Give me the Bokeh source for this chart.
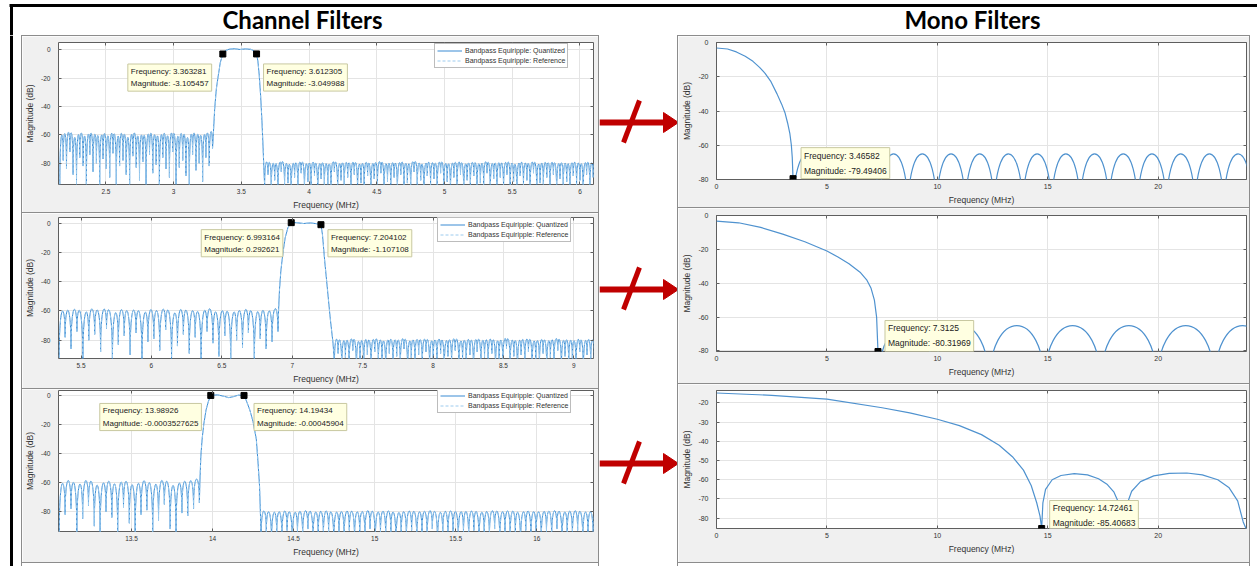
import numpy as np
from bokeh.plotting import figure
from bokeh.models import (Range1d, FixedTicker, NumeralTickFormatter, CustomJSTickFormatter,
                          LinearAxis, Label, Legend, LegendItem, Spacer)
from bokeh.layouts import row, column
from bokeh.embed import file_html
from bokeh.resources import INLINE
from bokeh.core.properties import value

# ======================= DATA =======================
title_left = "Channel Filters"
title_right = "Mono Filters"
legend_labels = ["Bandpass Equiripple: Quantized", "Bandpass Equiripple: Reference"]
x_label = "Frequency (MHz)"
y_label = "Magnitude (dB)"

# ---- Channel filter 1 ----
ch1_xlim = [2.15, 6.1]
ch1_ylim = [-95, 5]
ch1_xticks = [2.5, 3, 3.5, 4, 4.5, 5, 5.5, 6]
ch1_yticks = [-80, -60, -40, -20, 0]
ch1_lo_level = -60
ch1_lo_null_f = [2.160, 2.185, 2.209, 2.234, 2.258, 2.283, 2.307, 2.332, 2.356, 2.381, 2.405, 2.430,
                 2.454, 2.479, 2.503, 2.528, 2.552, 2.577, 2.601, 2.626, 2.650, 2.675, 2.699, 2.724,
                 2.748, 2.773, 2.797, 2.822, 2.846, 2.871, 2.895, 2.920, 2.944, 2.969, 2.993, 3.018,
                 3.042, 3.067, 3.091, 3.116, 3.140, 3.165, 3.189, 3.214, 3.238, 3.263, 3.287]
ch1_lo_null_db = [-95, -78, -84, -72, -88, -95, -76, -82, -95, -74, -86, -80, -95, -77, -84, -90,
                  -73, -95, -82, -78, -88, -95, -75, -83, -92, -79, -95, -74, -87, -81, -95, -76,
                  -84, -90, -72, -95, -83, -78, -89, -95, -74, -85, -80, -93, -76, -82, -70]
ch1_pass_f = [3.287, 3.293, 3.303, 3.315, 3.330, 3.345, 3.363281, 3.380, 3.410, 3.450, 3.490,
              3.530, 3.570, 3.595, 3.612305, 3.622, 3.632, 3.642, 3.652, 3.660, 3.667, 3.672]
ch1_pass_db = [-70, -60, -42, -28, -18, -9, -3.105457, -0.8, 0.3, 0.6, 0.1,
               0.5, 0.2, -1.0, -3.049988, -8, -18, -32, -50, -68, -85, -96]
ch1_hi_level = -80
ch1_hi_null_f = [3.672, 3.697, 3.721, 3.746, 3.770, 3.795, 3.819, 3.844, 3.868, 3.893, 3.917, 3.942,
                 3.966, 3.991, 4.015, 4.040, 4.064, 4.089, 4.113, 4.138, 4.162, 4.187, 4.211, 4.236,
                 4.260, 4.285, 4.309, 4.334, 4.358, 4.383, 4.407, 4.432, 4.456, 4.481, 4.505, 4.530,
                 4.554, 4.579, 4.603, 4.628, 4.652, 4.677, 4.701, 4.726, 4.750, 4.775, 4.799, 4.824,
                 4.848, 4.873, 4.897, 4.922, 4.946, 4.971, 4.995, 5.020, 5.044, 5.069, 5.093, 5.118,
                 5.142, 5.167, 5.191, 5.216, 5.240, 5.265, 5.289, 5.314, 5.338, 5.363, 5.387, 5.412,
                 5.436, 5.461, 5.485, 5.510, 5.534, 5.559, 5.583, 5.608, 5.632, 5.657, 5.681, 5.706,
                 5.730, 5.755, 5.779, 5.804, 5.828, 5.853, 5.877, 5.902, 5.926, 5.951, 5.975, 6.000,
                 6.024, 6.049, 6.073, 6.098, 6.122]
ch1_hi_null_db = [-96, -88, -99, -92, -101, -86, -97, -94, -103, -90,
                  -98, -87, -100, -93, -96, -89, -104, -91, -97, -95,
                  -99, -86, -102, -92, -96, -90, -98, -88, -101, -94,
                  -97, -89, -103, -91, -95, -87, -100, -93, -98, -90,
                  -102, -88, -96, -94, -99, -86, -97, -92, -104, -89,
                  -96, -91, -100, -87, -98, -93, -101, -90, -95, -88,
                  -103, -92, -97, -89, -99, -94, -96, -87, -102, -91,
                  -98, -90, -100, -88, -97, -93, -104, -89, -96, -92,
                  -99, -87, -101, -94, -95, -90, -98, -88, -103, -91,
                  -97, -93, -100, -89, -96, -92, -102, -88, -99, -90, -95]
ch1_tip_f = [3.363281, 3.612305]
ch1_tip_db = [-3.105457, -3.049988]
ch1_tip_text = ["Frequency: 3.363281\nMagnitude: -3.105457",
                "Frequency: 3.612305\nMagnitude: -3.049988"]

# ---- Channel filter 2 ----
ch2_xlim = [5.34, 9.14]
ch2_ylim = [-92.5, 3.8]
ch2_xticks = [5.5, 6, 6.5, 7, 7.5, 8, 8.5, 9]
ch2_yticks = [-80, -60, -40, -20, 0]
ch2_lo_level = -60
ch2_lo_null_f = [5.345, 5.387, 5.429, 5.471, 5.513, 5.555, 5.597, 5.639, 5.681, 5.723, 5.765, 5.807,
                 5.849, 5.891, 5.933, 5.975, 6.017, 6.059, 6.101, 6.143, 6.185, 6.227, 6.269, 6.311,
                 6.353, 6.395, 6.437, 6.479, 6.521, 6.563, 6.605, 6.647, 6.689, 6.731, 6.773, 6.815,
                 6.857, 6.899]
ch2_lo_null_db = [-92, -78, -86, -74, -95, -80, -76, -88, -72, -95, -83, -77, -90, -75, -95, -81,
                  -79, -87, -73, -95, -84, -76, -89, -78, -95, -74, -82, -91, -77, -95, -80, -85,
                  -75, -95, -79, -86, -81, -74]
ch2_pass_f = [6.899, 6.903, 6.910, 6.920, 6.935, 6.950, 6.970, 6.993164, 7.030, 7.080, 7.130,
              7.170, 7.204102, 7.215, 7.230, 7.250, 7.270, 7.290, 7.300]
ch2_pass_db = [-74, -60, -45, -32, -20, -10, -3, 0.292621, 0.3, -0.3, 0.1,
               -0.4, -1.107108, -8, -25, -45, -65, -82, -96]
ch2_hi_level = -80
ch2_hi_null_f = [7.300, 7.326, 7.352, 7.378, 7.404, 7.430, 7.456, 7.482, 7.508, 7.534, 7.560, 7.586,
                 7.612, 7.638, 7.664, 7.690, 7.716, 7.742, 7.768, 7.794, 7.820, 7.846, 7.872, 7.898,
                 7.924, 7.950, 7.976, 8.002, 8.028, 8.054, 8.080, 8.106, 8.132, 8.158, 8.184, 8.210,
                 8.236, 8.262, 8.288, 8.314, 8.340, 8.366, 8.392, 8.418, 8.444, 8.470, 8.496, 8.522,
                 8.548, 8.574, 8.600, 8.626, 8.652, 8.678, 8.704, 8.730, 8.756, 8.782, 8.808, 8.834,
                 8.860, 8.886, 8.912, 8.938, 8.964, 8.990, 9.016, 9.042, 9.068, 9.094, 9.120, 9.146,
                 9.172]
ch2_hi_null_db = [-96, -89, -101, -92, -98, -87, -103, -94, -97, -90,
                  -100, -88, -95, -93, -102, -89, -97, -91, -99, -86,
                  -104, -92, -96, -90, -98, -88, -101, -93, -95, -89,
                  -103, -91, -97, -87, -100, -94, -96, -90, -102, -88,
                  -98, -92, -95, -89, -101, -93, -97, -86, -99, -91,
                  -103, -90, -96, -88, -100, -94, -98, -89, -102, -92,
                  -95, -87, -101, -91, -97, -93, -99, -88, -104, -90,
                  -96, -92, -98]
ch2_tip_f = [6.993164, 7.204102]
ch2_tip_db = [0.292621, -1.107108]
ch2_tip_text = ["Frequency: 6.993164\nMagnitude: 0.292621",
                "Frequency: 7.204102\nMagnitude: -1.107108"]

# ---- Channel filter 3 ----
ch3_xlim = [13.05, 16.35]
ch3_ylim = [-93.7, 3.4]
ch3_xticks = [13.5, 14, 14.5, 15, 15.5, 16]
ch3_yticks = [-80, -60, -40, -20, 0]
ch3_lo_level = -60
ch3_lo_null_f = [13.055, 13.091, 13.127, 13.163, 13.199, 13.235, 13.271, 13.307, 13.343, 13.379,
                 13.415, 13.451, 13.487, 13.523, 13.559, 13.595, 13.631, 13.667, 13.703, 13.739,
                 13.775, 13.811, 13.847, 13.883, 13.919]
ch3_lo_null_db = [-95, -82, -78, -95, -85, -76, -90, -95, -80, -84, -95, -77, -88, -95, -82, -79,
                  -95, -86, -75, -92, -95, -81, -83, -78, -74]
ch3_pass_f = [13.919, 13.922, 13.928, 13.936, 13.946, 13.960, 13.975, 13.98926, 14.030, 14.070,
              14.100, 14.130, 14.160, 14.19434, 14.210, 14.230, 14.250, 14.270, 14.280, 14.290, 14.300]
ch3_pass_db = [-74, -60, -42, -30, -20, -10, -4, -0.0003527625, 0.4, -0.6,
               -1.5, -0.8, 0.2, -0.00045904, -4, -10, -18, -30, -45, -62, -97]
ch3_hi_level = -80
ch3_hi_null_f = [14.300, 14.332, 14.364, 14.396, 14.428, 14.460, 14.492, 14.524, 14.556, 14.588,
                 14.620, 14.652, 14.684, 14.716, 14.748, 14.780, 14.812, 14.844, 14.876, 14.908,
                 14.940, 14.972, 15.004, 15.036, 15.068, 15.100, 15.132, 15.164, 15.196, 15.228,
                 15.260, 15.292, 15.324, 15.356, 15.388, 15.420, 15.452, 15.484, 15.516, 15.548,
                 15.580, 15.612, 15.644, 15.676, 15.708, 15.740, 15.772, 15.804, 15.836, 15.868,
                 15.900, 15.932, 15.964, 15.996, 16.028, 16.060, 16.092, 16.124, 16.156, 16.188,
                 16.220, 16.252, 16.284, 16.316, 16.348, 16.380, 16.412]
ch3_hi_null_db = [-97, -94, -102, -96, -99, -93, -104, -95, -98, -92,
                  -101, -96, -97, -94, -103, -95, -99, -93, -100, -96,
                  -98, -92, -102, -95, -97, -94, -104, -96, -99, -93,
                  -101, -95, -98, -92, -103, -96, -97, -94, -100, -95,
                  -99, -93, -102, -96, -98, -92, -101, -94, -97, -95,
                  -104, -93, -99, -96, -100, -94, -98, -92, -102, -95,
                  -97, -93, -101, -96, -99, -94, -98]
ch3_tip_f = [13.98926, 14.19434]
ch3_tip_db = [-0.0003527625, -0.00045904]
ch3_tip_text = ["Frequency: 13.98926\nMagnitude: -0.0003527625",
                "Frequency: 14.19434\nMagnitude: -0.00045904"]

# ---- Mono filters (0 - 24 MHz) ----
mono_xlim = [0, 24]
mono_xticks = [0, 5, 10, 15, 20]

mono1_ylim = [-80, 0]
mono1_yticks = [-80, -60, -40, -20, 0]
mono1_main_f = [0, 0.5, 0.9, 1.3, 1.65, 1.95, 2.2, 2.45, 2.74, 2.95, 3.1, 3.22, 3.32, 3.39, 3.43, 3.46582]
mono1_main_db = [-3.2, -3.8, -5.5, -8, -11, -14.5, -18, -22.5, -30, -36, -41, -47, -53, -60, -67, -79.49406]
mono1_side_null_f = [3.46582, 4.77, 6.07, 7.37, 8.67, 9.97, 11.27, 12.57, 13.87, 15.17, 16.47,
                     17.77, 19.07, 20.37, 21.67, 22.97, 24.27]
mono1_side_null_db = [-100] * 17
mono1_side_peak = -65
mono1_tip_f = [3.46582]
mono1_tip_db = [-79.49406]
mono1_tip_text = ["Frequency: 3.46582\nMagnitude: -79.49406"]

mono2_ylim = [-80.32, 0]
mono2_yticks = [-80, -60, -40, -20, 0]
mono2_main_f = [0, 1, 2, 3, 4, 5, 5.5, 6, 6.5, 6.8, 7.0, 7.15, 7.25, 7.3125]
mono2_main_db = [-3.3, -4.3, -7, -11, -15.5, -21, -24.5, -28.5, -33.5, -38, -43, -50, -60, -80.31969]
mono2_side_null_f = [7.3125, 9.85, 12.35, 14.85, 17.4, 19.95, 22.55, 25.1]
mono2_side_null_db = [-100] * 8
mono2_side_peak = -65
mono2_tip_f = [7.3125]
mono2_tip_db = [-80.31969]
mono2_tip_text = ["Frequency: 7.3125\nMagnitude: -80.31969"]

mono3_ylim = [-85.41, -13.5]
mono3_yticks = [-80, -70, -60, -50, -40, -30, -20]
mono3_f = [0, 2.5, 5, 7.5, 8.75, 10, 11, 12, 12.8, 13.4, 13.9, 14.25, 14.5, 14.65, 14.72461,
           14.78, 14.9, 15.2, 15.6, 16.2, 16.8, 17.3, 17.7, 18.0, 18.25, 18.42, 18.58, 18.8,
           19.2, 19.8, 20.5, 21.3, 22.0, 22.7, 23.2, 23.6, 23.85, 24.0]
mono3_db = [-14.8, -16, -18, -22.5, -25.2, -28.5, -31.8, -36.5, -42, -48, -55, -63, -72, -79, -85.40683,
            -72, -65, -60, -57.8, -56.8, -57.5, -59.5, -62.5, -66.5, -73, -86, -73, -66,
            -61, -58, -56.7, -56.5, -57.5, -60, -64, -71, -82, -86]
mono3_tip_f = [14.72461]
mono3_tip_db = [-85.40683]
mono3_tip_text = ["Frequency: 14.72461\nMagnitude: -85.40683"]

# ======================= STYLE =======================
FONT = "Liberation Sans"
PANEL_BG = "#f0f0f0"
SEP = "#8c8c8c"
FRAME = "#5e5e5e"
GRID = "#e4e4e4"
TXT = "#333333"
CH_BLUE = "#3a8bd3"
CH_REF = "#9ccbee"
MONO_BLUE = "#4f92cf"
TIP_BG = "#ffffe1"
TIP_EDGE = "#c8c8a0"
RED = "#c00000"
PAD = 3


def panel(w, h, bl, br, bt, bb, xlim, ylim, xticks, yticks, tick_px, label_px):
    p = figure(width=w, height=h, x_range=Range1d(*xlim), y_range=Range1d(*ylim),
               output_backend="svg", toolbar_location=None, title=None,
               min_border_left=bl, min_border_right=br, min_border_top=bt, min_border_bottom=bb,
               border_fill_color=PANEL_BG, background_fill_color="white",
               outline_line_color=FRAME, outline_line_width=1)
    xa, ya = p.below[0], p.left[0]
    for ax, t in ((xa, xticks), (ya, yticks)):
        ax.ticker = FixedTicker(ticks=t)
        ax.formatter = NumeralTickFormatter(format="0.[0]")
        ax.major_tick_in = 3
        ax.major_tick_out = 0
        ax.minor_tick_line_color = None
        ax.axis_line_color = None
        ax.major_tick_line_color = FRAME
        ax.major_label_text_font = FONT
        ax.major_label_text_font_size = f"{tick_px}px"
        ax.major_label_text_color = TXT
        ax.axis_label_text_font = FONT
        ax.axis_label_text_font_size = f"{label_px}px"
        ax.axis_label_text_font_style = "normal"
        ax.axis_label_text_color = TXT
    xa.axis_label = x_label
    ya.axis_label = y_label
    xa.major_label_standoff = 4
    xa.axis_label_standoff = 3
    ya.major_label_standoff = 8
    ya.axis_label_standoff = 3
    p.grid.grid_line_color = GRID
    blank = CustomJSTickFormatter(code="return ''")
    for loc, t in (("above", xticks), ("right", yticks)):
        ax = LinearAxis(ticker=FixedTicker(ticks=t), formatter=blank, major_tick_in=3,
                        major_tick_out=0, minor_tick_line_color=None, axis_line_color=None,
                        major_label_standoff=0, major_tick_line_color=FRAME)
        p.add_layout(ax, loc)
    return p


def lobes(p, null_f, null_db, level, color, width=1.0, dash=None):
    f = np.asarray(null_f, float)
    d = np.asarray(null_db, float)
    ctrl = level + (level - d.mean()) / 3.0   # control height so lobe tops sit near the level
    n = len(f) - 1
    kw = dict(line_color=color, line_width=width)
    if dash:
        kw["line_dash"] = dash
    return p.bezier(x0=f[:-1], y0=d[:-1], x1=f[1:], y1=d[1:],
                    cx0=f[:-1], cy0=np.full(n, ctrl), cx1=f[1:], cy1=np.full(n, ctrl), **kw)


def tips(p, fs, dbs, texts, offsets, font_px, line_h):
    p.scatter(fs, dbs, marker="square", size=6, fill_color="black", line_color="black")
    for f, db, t, (dx, dy) in zip(fs, dbs, texts, offsets):
        p.add_layout(Label(x=f, y=db, x_offset=dx + PAD, y_offset=-(dy + PAD), text=t,
                           text_font=FONT, text_font_size=f"{font_px}px", text_color="#222222",
                           text_align="left", text_baseline="top", text_line_height=line_h,
                           background_fill_color=TIP_BG, background_fill_alpha=1.0,
                           border_line_color=TIP_EDGE, border_line_width=1, padding=PAD))


def channel_panel(h, bl, br, bt, bb, xlim, ylim, xticks, yticks,
                  lo_f, lo_db, lo_lvl, pass_f, pass_db, hi_f, hi_db, hi_lvl,
                  tip_f, tip_db, tip_text, tip_off, legend_xy):
    p = panel(576, h, bl, br, bt, bb, xlim, ylim, xticks, yticks, 6.5, 8.5)
    for nf, nd, lv in ((lo_f, lo_db, lo_lvl), (hi_f, hi_db, hi_lvl)):
        lobes(p, nf, nd, lv, CH_BLUE)
        lobes(p, nf, nd, lv, CH_REF, dash="3 2")
    rq = p.line(pass_f, pass_db, line_color=CH_BLUE, line_width=1)
    rr = p.line(pass_f, pass_db, line_color=CH_REF, line_width=1, line_dash="3 2")
    leg = Legend(items=[LegendItem(label=legend_labels[0], renderers=[rq]),
                        LegendItem(label=legend_labels[1], renderers=[rr])],
                 location=legend_xy, label_text_font=FONT, label_text_font_size="7px",
                 label_text_color=TXT, label_height=9, label_standoff=3, glyph_height=9,
                 glyph_width=25, spacing=1, padding=2, margin=0,
                 border_line_color="#7a7a7a", border_line_width=1,
                 background_fill_color="white", background_fill_alpha=1.0)
    p.add_layout(leg)
    tips(p, tip_f, tip_db, tip_text, tip_off, 8, 1.35)
    return p


def mono_panel(h, bt, bb, ylim, yticks):
    return panel(571, h, 38, 3, bt, bb, mono_xlim, ylim, mono_xticks, yticks, 7, 8.5)


def canvas(w, h, x0, y0):
    p = figure(width=w, height=h, x_range=Range1d(x0, x0 + w), y_range=Range1d(y0 + h, y0),
               output_backend="svg", toolbar_location=None, title=None, min_border=0,
               x_axis_type=None, y_axis_type=None, outline_line_color=None,
               background_fill_color="white", border_fill_color="white")
    return p


def sep(w, h):
    return Spacer(width=w, height=h, styles={"background-color": SEP})


# ---------------- channel panels ----------------
L1 = channel_panel(176, 35, 4, 6, 28, ch1_xlim, ch1_ylim, ch1_xticks, ch1_yticks,
                   ch1_lo_null_f, ch1_lo_null_db, ch1_lo_level, ch1_pass_f, ch1_pass_db,
                   ch1_hi_null_f, ch1_hi_null_db, ch1_hi_level,
                   ch1_tip_f, ch1_tip_db, ch1_tip_text, [(-98, 7), (4, 7)], (376, 116))
L2 = channel_panel(175, 31, 5, 4, 30, ch2_xlim, ch2_ylim, ch2_xticks, ch2_yticks,
                   ch2_lo_null_f, ch2_lo_null_db, ch2_lo_level, ch2_pass_f, ch2_pass_db,
                   ch2_hi_null_f, ch2_hi_null_db, ch2_hi_level,
                   ch2_tip_f, ch2_tip_db, ch2_tip_text, [(-93, 4), (4, 2)], (379, 116))
L3 = channel_panel(173, 31, 5, 1, 31, ch3_xlim, ch3_ylim, ch3_xticks, ch3_yticks,
                   ch3_lo_null_f, ch3_lo_null_db, ch3_lo_level, ch3_pass_f, ch3_pass_db,
                   ch3_hi_null_f, ch3_hi_null_db, ch3_hi_level,
                   ch3_tip_f, ch3_tip_db, ch3_tip_text, [(-114, 5), (7, 5)], (379, 118))

# ---------------- mono panels ----------------
R1 = mono_panel(171, 6, 28, mono1_ylim, mono1_yticks)
R1.line(mono1_main_f, mono1_main_db, line_color=MONO_BLUE, line_width=1.2)
lobes(R1, mono1_side_null_f, mono1_side_null_db, mono1_side_peak, MONO_BLUE, width=1.2)
tips(R1, mono1_tip_f, mono1_tip_db, mono1_tip_text, [(5, -34)], 8.5, 1.5)

R2 = mono_panel(175, 7, 32, mono2_ylim, mono2_yticks)
R2.line(mono2_main_f, mono2_main_db, line_color=MONO_BLUE, line_width=1.2)
lobes(R2, mono2_side_null_f, mono2_side_null_db, mono2_side_peak, MONO_BLUE, width=1.2)
tips(R2, mono2_tip_f, mono2_tip_db, mono2_tip_text, [(4, -34)], 8.5, 1.5)

R3 = mono_panel(178, 6, 34, mono3_ylim, mono3_yticks)
R3.line(mono3_f, mono3_db, line_color=MONO_BLUE, line_width=1.2)
tips(R3, mono3_tip_f, mono3_tip_db, mono3_tip_text, [(5, -31)], 8.5, 1.5)

# ---------------- decorations ----------------
top = canvas(1257, 35, 0, 0)
top.segment(x0=[9], y0=[5], x1=[1257], y1=[5], line_color="black", line_width=3)
top.segment(x0=[11], y0=[4], x1=[11], y1=[35], line_color="black", line_width=3)
top.text(x=[302, 972], y=[19, 19], text=[title_left, title_right], text_font=value("Lato"),
         text_font_style="bold", text_font_size="24px", text_align="center",
         text_baseline="middle", text_color="black")

lm = canvas(21, 531, 0, 35)
lm.segment(x0=[11], y0=[35], x1=[11], y1=[566], line_color="black", line_width=3)

arrows = canvas(78, 531, 599, 35)
for ay in (122, 289, 463):
    arrows.segment(x0=[599], y0=[ay], x1=[665], y1=[ay], line_color=RED, line_width=6)
    arrows.patch(x=[663, 678, 663], y=[ay - 10, ay, ay + 10], fill_color=RED, line_color=RED)
    arrows.segment(x0=[623], y0=[ay + 20], x1=[639], y1=[ay - 22], line_color=RED, line_width=5)

rm = canvas(7, 531, 1250, 35)

left_col = column(sep(576, 1), L1, sep(576, 1), L2, sep(576, 1), L3, sep(576, 1),
                  Spacer(width=576, height=3), spacing=0)
right_col = column(sep(571, 1), R1, sep(571, 1), R2, sep(571, 1), R3, sep(571, 1),
                   Spacer(width=571, height=3), spacing=0)
body = row(lm, sep(1, 531), left_col, sep(1, 531), arrows, sep(1, 531), right_col,
           sep(1, 531), rm, spacing=0)
page = column(top, body, spacing=0)

open("out.html", "w").write(file_html(page, INLINE))
